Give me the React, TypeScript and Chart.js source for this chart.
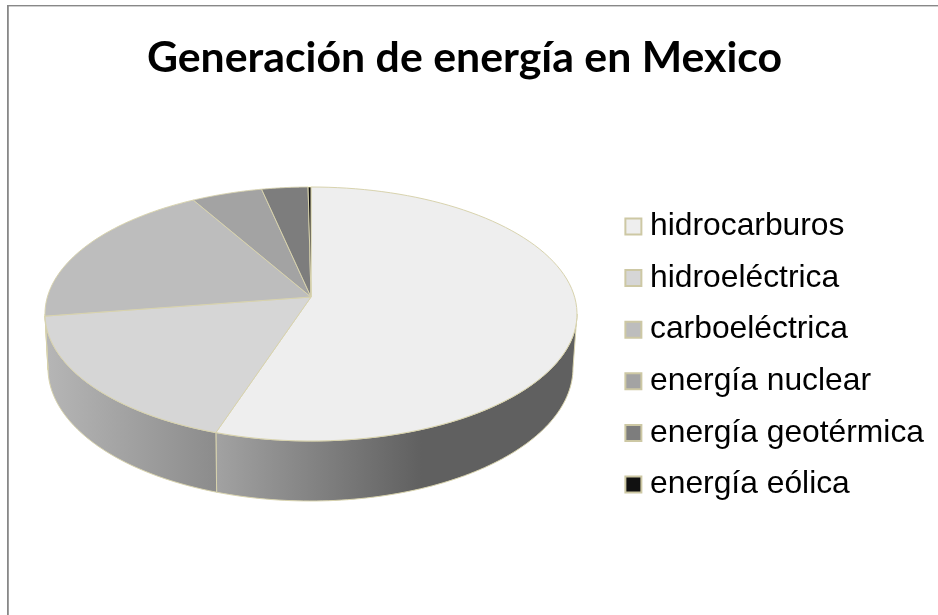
import React, { useEffect, useRef } from "react";
import { Chart, registerables } from "chart.js";

Chart.register(...registerables);

const categories = ["hidrocarburos", "hidroeléctrica", "carboeléctrica", "energía nuclear", "energía geotérmica", "energía eólica"];
const shares = [55.1, 17.5, 19.1, 4.9, 3.2, 0.2];
const sliceColors = ["#eeeeee", "#d6d6d6", "#bdbdbd", "#a3a3a3", "#7d7d7d", "#111111"];
const edgeColor = "#d8d3ae";
const wallStops: Record<number, [number, string][]> = {
  0: [[0, "#a2a2a2"], [0.57, "#606060"], [1, "#606060"]],
  1: [[0, "#b6b6b6"], [1, "#8c8c8c"]],
};

const TOP = { cx: 311, cy: 314, rx: 266, ry: 127 };
const BOTTOM = { cx: 310.5, cy: 368, rx: 262.5, ry: 133 };
const TILT = -17 / 127;
const STRETCH = Math.sqrt(1 - TILT * TILT);
const LEGEND_DX = -4;
const LEGEND_DY = 48;

// Circle angle -> point of the unit circle seen in perspective
function project(theta: number, radius = 1) {
  const u = Math.cos(theta) * radius;
  const v = Math.sin(theta) * radius;
  const d = 1 + TILT * v;
  return { x: (u * STRETCH) / d, y: (v + TILT) / d };
}
const onEllipse = (e: typeof TOP, x: number, y: number) => [e.cx + e.rx * x, e.cy + e.ry * y] as const;

function wallAngle(theta: number) {
  const p = project(theta);
  let a = Math.atan2(p.y, p.x);
  if (a < -Math.PI / 2 - 1e-6) a += Math.PI * 2;
  return Math.max(0, Math.min(Math.PI, a));
}

const pie3d = {
  id: "pie3d",
  beforeDraw(chart: any) {
    const { ctx, width, height } = chart;
    ctx.save();
    ctx.fillStyle = "#ffffff";
    ctx.fillRect(0, 0, width, height);
    ctx.fillStyle = "#888888";
    ctx.fillRect(7, 5, width - 7, 1.4);
    ctx.fillRect(7, 5, 1.8, height - 5);
    ctx.restore();
  },
  afterLayout(chart: any) {
    const t = chart.titleBlock;
    t.left -= 4.5;
    t.right -= 4.5;
    const l = chart.legend;
    l.left += LEGEND_DX;
    l.right += LEGEND_DX;
    l.top += LEGEND_DY;
    l.bottom += LEGEND_DY;
    l.adjustHitBoxes();
  },
  beforeDatasetDraw(chart: any) {
    const { ctx } = chart;
    const arcs = chart.getDatasetMeta(0).data;
    ctx.save();
    ctx.lineWidth = 1;
    ctx.strokeStyle = edgeColor;
    ctx.lineJoin = "round";

    // side wall
    arcs.forEach((arc: any, i: number) => {
      const a1 = wallAngle(arc.startAngle);
      const a2 = wallAngle(arc.endAngle);
      if (a2 <= a1) return;
      const steps = 80;
      ctx.beginPath();
      for (let k = 0; k <= steps; k++) {
        const a = a1 + ((a2 - a1) * k) / steps;
        const [x, y] = onEllipse(TOP, Math.cos(a), Math.sin(a));
        k ? ctx.lineTo(x, y) : ctx.moveTo(x, y);
      }
      for (let k = steps; k >= 0; k--) {
        const a = a1 + ((a2 - a1) * k) / steps;
        const [x, y] = onEllipse(BOTTOM, Math.cos(a), Math.sin(a));
        ctx.lineTo(x, y);
      }
      ctx.closePath();
      const x0 = TOP.cx + TOP.rx * Math.cos(a2);
      const x1 = TOP.cx + TOP.rx * Math.cos(a1);
      const g = ctx.createLinearGradient(x0, 0, x1, 0);
      (wallStops[i] || [[0, "#888"], [1, "#888"]]).forEach(([o, c]) => g.addColorStop(o, c));
      ctx.fillStyle = g;
      ctx.fill();
      ctx.stroke();
    });

    // top faces
    arcs.forEach((arc: any, i: number) => {
      const [ax, ay] = onEllipse(TOP, 0, TILT);
      ctx.beginPath();
      ctx.moveTo(ax, ay);
      const steps = 90;
      for (let k = 0; k <= steps; k++) {
        const t = arc.startAngle + ((arc.endAngle - arc.startAngle) * k) / steps;
        const p = project(t);
        const [x, y] = onEllipse(TOP, p.x, p.y);
        ctx.lineTo(x, y);
      }
      ctx.closePath();
      ctx.fillStyle = sliceColors[i];
      ctx.fill();
      ctx.stroke();
    });
    ctx.restore();
    return false;
  },
};

export default function App() {
  const ref = useRef<HTMLCanvasElement>(null);
  useEffect(() => {
    const chart = new Chart(ref.current as HTMLCanvasElement, {
      type: "pie",
      data: {
        labels: categories,
        datasets: [{ data: shares, backgroundColor: sliceColors, borderColor: edgeColor, borderWidth: 1 }],
      },
      plugins: [pie3d],
      options: {
        responsive: false,
        animation: false,
        layout: { padding: 0 },
        plugins: {
          tooltip: { enabled: false },
          title: {
            display: true,
            text: "Generación de energía en Mexico",
            color: "#000000",
            font: { family: "Lato", weight: "bold", size: 42.8 },
            padding: { top: 32.5, bottom: 10 },
          },
          legend: {
            position: "right",
            labels: {
              color: "#000000",
              font: { family: "'Liberation Sans'", size: 31.8 },
              usePointStyle: true,
              pointStyle: "rect",
              boxWidth: 1.5,
              boxHeight: 16,
              padding: 19.8,
              generateLabels(c: any) {
                return (Chart as any).overrides.doughnut.plugins.legend.labels
                  .generateLabels(c)
                  .map((l: any) => ({ ...l, lineWidth: 2, strokeStyle: "#cdc8a4", pointStyle: "rect" }));
              },
            },
          },
        },
      },
    } as any);
    return () => chart.destroy();
  }, []);
  return (
    <div style={{ position: "absolute", left: 0, top: 0, width: 938, height: 615 }}>
      <canvas ref={ref} width={938} height={615} style={{ display: "block" }} />
    </div>
  );
}
